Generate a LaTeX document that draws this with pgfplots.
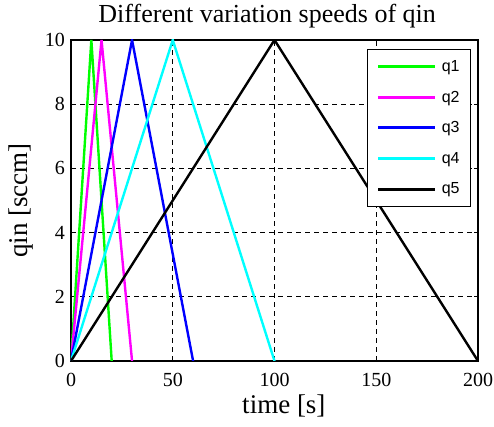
\documentclass[border=0pt]{standalone}
\usepackage{fontspec}
\setmainfont{Liberation Serif}
\newfontfamily\legfont{Liberation Sans}
\usepackage{pgfplots}
\pgfplotsset{compat=1.18}
\begin{document}
\begin{tikzpicture}
\begin{axis}[
  name=ax,
  scale only axis,
  width=407pt, height=321pt,
  xmin=0, xmax=200, ymin=0, ymax=10,
  xtick={0,50,100,150,200},
  ytick={0,2,4,6,8,10},
  tick align=inside,
  tick pos=both,
  major tick length=4pt,
  grid=major,
  major grid style={black, dash pattern=on 5pt off 4pt, line width=1pt},
  axis line style={line width=1.5pt},
  tick style={black, line width=1pt},
  /pgf/number format/assume math mode=true,
  ticklabel style={font=\fontsize{20}{20}\selectfont},
  xticklabel style={anchor=base, yshift=-26pt},
  yticklabel style={anchor=east, inner sep=0pt, xshift=-6pt},
  title={Different variation speeds of qin},
  title style={font=\fontsize{26}{26}\selectfont, at={(axis description cs:0.482,1.0353)}, anchor=base},
  xlabel={time [s]},
  ylabel={qin [sccm]},
  label style={font=\fontsize{27}{27}\selectfont},
  xlabel style={at={(axis description cs:0.523,-0.162)}, anchor=base},
  ylabel style={at={(axis description cs:-0.1057,0.5)}, anchor=base, rotate=0},
  legend style={at={(0.983,0.972)}, anchor=north east, font=\legfont\fontsize{16}{16}\selectfont,
    draw=black, line width=1pt, inner xsep=9pt, inner ysep=9pt, row sep=14pt, column sep=3pt,
    nodes={inner sep=2pt}},
  legend cell align=left,
  legend image code/.code={\draw[#1, line width=3pt] (0pt,0pt) -- (57pt,0pt);},
  every axis plot/.append style={line width=2.4pt},
]
\addplot[color={rgb,255:red,0;green,255;blue,0}] coordinates {(0,0) (10,10) (20,0)};
\addlegendentry{q1}
\addplot[color={rgb,255:red,255;green,0;blue,255}] coordinates {(0,0) (15,10) (30,0)};
\addlegendentry{q2}
\addplot[color={rgb,255:red,0;green,0;blue,255}] coordinates {(0,0) (30,10) (60,0)};
\addlegendentry{q3}
\addplot[color={rgb,255:red,0;green,255;blue,255}] coordinates {(0,0) (50,10) (100,0)};
\addlegendentry{q4}
\addplot[color=black] coordinates {(0,0) (100,10) (200,0)};
\addlegendentry{q5}
\end{axis}
\pgfresetboundingbox
\path[use as bounding box] ([shift={(-71pt,-66pt)}]ax.south west) rectangle ([shift={(16pt,40pt)}]ax.north east);
\end{tikzpicture}
\end{document}
